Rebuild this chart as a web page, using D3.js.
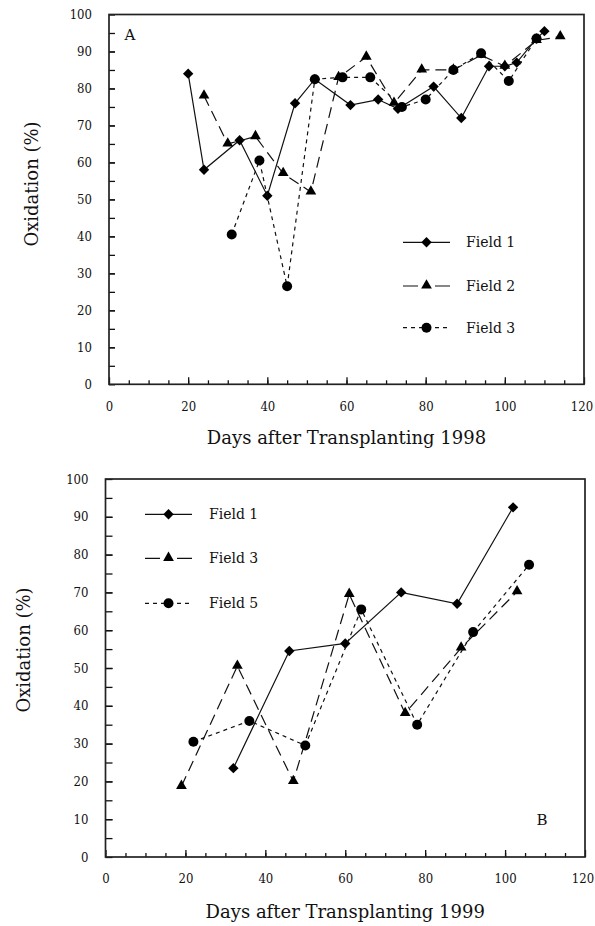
<!DOCTYPE html>
<html>
<head>
<meta charset="utf-8">
<script src="https://cdn.jsdelivr.net/npm/d3@7"></script>
<style>
  body { margin: 0; background: white; }
  svg { display: block; }
</style>
</head>
<body>
<div id="bigdiv"></div>
<script>
// oxidation (%) vs days after transplanting, two panels

// panel A, 1998
const namesA = ['Field 1', 'Field 2', 'Field 3']
const field1_1998 = [[20, 84], [24, 58], [33, 66], [40, 51], [47, 76], [52, 82.5], [61, 75.5], [68, 77], [73, 74.5],
    [82, 80.5], [89, 72], [96, 86], [100, 86], [103, 87], [108, 93.5], [110, 95.5]]
const field2_1998 = [[24, 78], [30, 65], [37, 67], [44, 57], [51, 52], [58, 83], [65, 88.5], [72, 76], [79, 85],
    [87, 85], [94, 89], [100, 86], [108, 93], [114, 94]]
const field3_1998 = [[31, 40.5], [38, 60.5], [45, 26.5], [52, 82.5], [59, 83], [66, 83], [74, 75], [80, 77],
    [87, 85], [94, 89.5], [101, 82], [108, 93.5]]

// panel B, 1999
const namesB = ['Field 1', 'Field 3', 'Field 5']
const field1_1999 = [[32, 23.5], [46, 54.5], [60, 56.5], [74, 70], [88, 67], [102, 92.5]]
const field3_1999 = [[19, 18.7], [33, 50.5], [47, 20], [61, 69.5], [75, 38], [89, 55.3], [103, 70.2]]
const field5_1999 = [[22, 30.5], [36, 36], [50, 29.5], [64, 65.5], [78, 35], [92, 59.5], [106, 77.3]]

// axes
const xTicks = [0, 20, 40, 60, 80, 100, 120]
const yTicks = [0, 10, 20, 30, 40, 50, 60, 70, 80, 90, 100]

const FONT = 'DejaVu Serif'
const TICKFONT = '"DejaVu Serif Condensed", "DejaVu Serif", serif'

// one style per series slot: solid+diamond, long dash+triangle, short dash+circle
const seriesStyles = [
    { dash: null, legendDash: null, symbol: 'diamond' },
    { dash: '11,6', legendDash: '15,17,15', symbol: 'triangle' },
    { dash: '4,4', legendDash: '4,4', symbol: 'circle' }
]

let svg = d3.select('div#bigdiv').append('svg')
    .attr('width', 595).attr('height', 926)
    .style('background-color', 'white')

function addMarker(g, kind, cx, cy) {
    if (kind === 'circle') {
        g.append('circle').attr('cx', cx).attr('cy', cy).attr('r', 5).attr('fill', 'black')
    } else if (kind === 'triangle') {
        g.append('path')
            .attr('d', d3.symbol().type(d3.symbolTriangle).size(50)())
            .attr('transform', 'translate(' + cx + ',' + (cy - 0.5) + ')')
            .attr('fill', 'black')
    } else {
        g.append('path')
            .attr('d', d3.symbol().type(d3.symbolSquare).size(54)())
            .attr('transform', 'translate(' + cx + ',' + cy + ') rotate(45)')
            .attr('fill', 'black')
    }
}

function drawPanel(p) {
    let g = svg.append('g').attr('class', 'panel')
    let x = d3.scaleLinear().domain([0, 120]).range([p.left, p.right])
    let y = d3.scaleLinear().domain([0, 100]).range([p.bottom, p.top])

    // minor ticks every 5 (inside)
    g.append('g').attr('transform', 'translate(0,' + p.bottom + ')')
        .call(d3.axisBottom(x).tickValues(d3.range(5, 120, 5)).tickSize(-4).tickFormat(''))
        .call(a => a.select('.domain').remove())
    g.append('g').attr('transform', 'translate(' + p.left + ',0)')
        .call(d3.axisLeft(y).tickValues(d3.range(5, 100, 5)).tickSize(-p.ytick).tickFormat(''))
        .call(a => a.select('.domain').remove())

    // major ticks with labels
    let xa = g.append('g').attr('transform', 'translate(0,' + p.bottom + ')')
        .call(d3.axisBottom(x).tickValues(xTicks).tickSize(-7).tickPadding(17))
    xa.select('.domain').remove()
    // the last label sits a little left of its tick, as in the original
    xa.selectAll('.tick text').filter(d => d === 120).attr('dx', -2.5)
    let ya = g.append('g').attr('transform', 'translate(' + p.left + ',0)')
        .call(d3.axisLeft(y).tickValues(yTicks).tickSize(-p.ytick).tickPadding(17))
    ya.select('.domain').remove()
    g.selectAll('.tick line').attr('stroke', '#111').attr('stroke-width', 1.3)
    g.selectAll('.tick text').attr('font-family', TICKFONT).attr('font-size', 13).attr('fill', '#111')

    // frame
    g.append('rect')
        .attr('x', p.left).attr('y', p.top)
        .attr('width', p.right - p.left).attr('height', p.bottom - p.top)
        .attr('fill', 'none').attr('stroke', '#222').attr('stroke-width', 1.7)

    // series
    let line = d3.line().x(d => x(d[0])).y(d => y(d[1]))
    p.series.forEach((s, si) => {
        let st = seriesStyles[si]
        let sg = g.append('g').attr('class', 'series')
        sg.append('path').datum(s)
            .attr('d', line)
            .attr('fill', 'none').attr('stroke', '#111').attr('stroke-width', 1.2)
            .attr('stroke-dasharray', st.dash)
        s.forEach(d => addMarker(sg, st.symbol, x(d[0]), y(d[1])))
    })

    // legend
    p.names.forEach((nm, ni) => {
        let st = seriesStyles[ni]
        let ly = p.legend.ys[ni]
        let lg = g.append('g').attr('class', 'legend')
        lg.append('line')
            .attr('x1', p.legend.x0).attr('x2', p.legend.x1).attr('y1', ly).attr('y2', ly)
            .attr('stroke', '#111').attr('stroke-width', 1.2)
            .attr('stroke-dasharray', st.legendDash)
        addMarker(lg, st.symbol, (p.legend.x0 + p.legend.x1) / 2, ly)
        lg.append('text')
            .attr('x', p.legend.tx).attr('y', ly).attr('dy', '0.36em')
            .attr('font-family', FONT).attr('font-size', 14).attr('fill', '#111')
            .text(nm)
    })

    // axis titles
    g.append('text')
        .attr('x', (p.left + p.right) / 2).attr('y', p.xtitleY).attr('dy', '0.36em')
        .attr('text-anchor', 'middle')
        .attr('font-family', FONT).attr('font-size', 18).attr('fill', '#111')
        .text(p.xtitle)
    g.append('text')
        .attr('transform', 'translate(' + p.ytitleX + ',' + p.ytitleY + ') rotate(-90)')
        .attr('dy', '0.36em')
        .attr('text-anchor', 'middle')
        .attr('font-family', FONT).attr('font-size', 18).attr('fill', '#111')
        .text('Oxidation (%)')

    // panel letter
    g.append('text')
        .attr('x', p.letter.x).attr('y', p.letter.y).attr('dy', '0.36em')
        .attr('text-anchor', 'middle')
        .attr('font-family', FONT).attr('font-size', 15).attr('fill', '#111')
        .text(p.letter.t)
}

drawPanel({
    left: 109, right: 584, top: 14.5, bottom: 384.3, ytick: 6,
    series: [field1_1998, field2_1998, field3_1998], names: namesA,
    legend: { x0: 403, x1: 450, tx: 466, ys: [242.3, 286, 327.7] },
    xtitle: 'Days after Transplanting 1998', xtitleY: 438,
    ytitleX: 32, ytitleY: 184,
    letter: { t: 'A', x: 130, y: 35 }
})

drawPanel({
    left: 105.5, right: 585, top: 479, bottom: 857, ytick: 7,
    series: [field1_1999, field3_1999, field5_1999], names: namesB,
    legend: { x0: 145, x1: 192, tx: 209, ys: [514.3, 558.3, 603.3] },
    xtitle: 'Days after Transplanting 1999', xtitleY: 911.5,
    ytitleX: 24, ytitleY: 650,
    letter: { t: 'B', x: 542, y: 820 }
})
</script>
</body>
</html>
